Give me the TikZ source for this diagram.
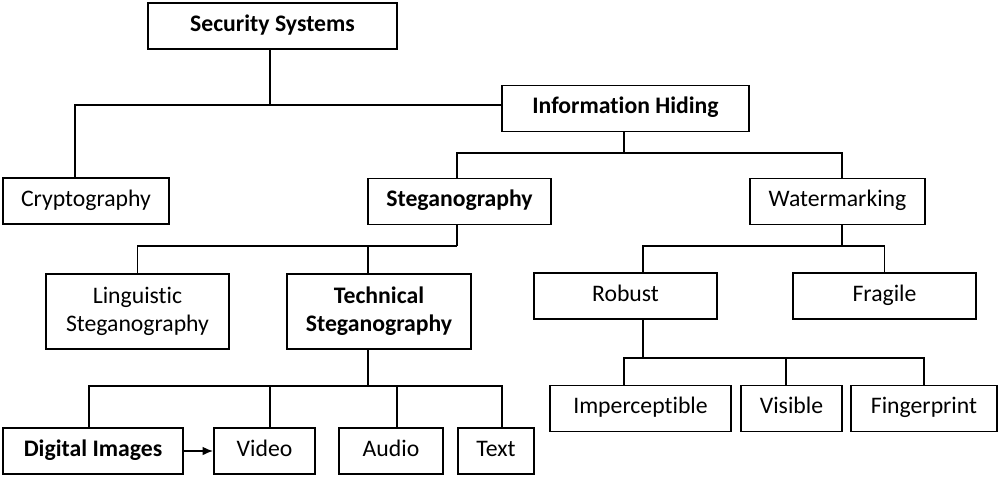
\documentclass[tikz,border=0pt]{standalone}
\usepackage{fontspec}
\setmainfont{Carlito}[Ligatures=NoCommon]
\usepackage{tikz}
\usetikzlibrary{calc,arrows.meta}

\begin{document}
\begin{tikzpicture}[x=0.02cm,y=-0.02cm,line width=1pt]
        \tikzstyle{base}=[draw,fill=white,inner sep=0pt,align=center,font=\fontsize{13.5}{16}\selectfont]
        \tikzstyle{box}=[base,minimum height=0.92cm,text height=0.65em,text depth=0.05em]
        \tikzstyle{keybox}=[box,font=\fontsize{13.5}{16}\selectfont\bfseries]
        \tikzstyle{tallbox}=[base,minimum height=1.5cm]
        \useasboundingbox (0,0) rectangle (1000,477);

        % Top levels
        \node (sec)[keybox, minimum width=4.98cm] at (272.5,26) {Security Systems};
        \node (info)[keybox, minimum width=4.94cm] at (625.5,108.5) {Information Hiding};
        \node (crypto)[box, minimum width=3.32cm] at (86,201) {Cryptography};
        \node (stego)[keybox, minimum width=3.66cm] at (459.5,201.5) {Steganography};
        \node (water)[box, minimum width=3.5cm] at (837.5,201.5) {Watermarking};

        % Steganography branch
        \node (ling)[tallbox, minimum width=3.66cm] at (137.5,311.5) {Linguistic\\Steganography};
        \node (tech)[tallbox, minimum width=3.68cm, font=\fontsize{13.5}{16}\selectfont\bfseries] at (379,311.5) {Technical\\Steganography};
        \node (digital)[keybox, minimum width=3.6cm] at (93,451) {Digital Images};
        \node (video)[box, minimum width=2.02cm] at (264.5,451) {Video};
        \node (audio)[box, minimum width=2.08cm] at (391,451) {Audio};
        \node (text)[box, minimum width=1.52cm] at (496,451) {Text};

        % Watermarking branch
        \node (robust)[box, minimum width=3.66cm] at (625.5,296) {Robust};
        \node (fragile)[box, minimum width=3.66cm] at (884.5,296) {Fragile};
        \node (imper)[box, minimum width=3.62cm] at (640.5,408.5) {Imperceptible};
        \node (visible)[box, minimum width=2.02cm] at (791.5,408.5) {Visible};
        \node (finger)[box, minimum width=2.92cm] at (924,408.5) {Fingerprint};

        % Bus junctions
        \coordinate (bus1) at (270,105);
        \coordinate (bus2) at (624,153);
        \coordinate (bus3) at (457,246);
        \coordinate (bus4) at (842,246);
        \coordinate (bus5) at (368,386);
        \coordinate (bus6) at (643,358);

        % Connectors
        \draw (sec.south -| bus1) -- (bus1);
        \draw ($(crypto.north)+(-11,0)$) |- (bus1) -- (bus1 -| info.west);

        \draw (info.south -| bus2) -- (bus2);
        \draw ($(stego.north)+(-2.5,0)$) |- (bus2) -| ($(water.north)+(4.5,0)$);

        \draw (stego.south -| bus3) -- (bus3);
        \draw (ling.north) |- (bus3);
        \draw ($(tech.north)+(-11,0)$) |- (bus3);

        \draw (water.south -| bus4) -- (bus4);
        \draw (robust.north -| bus6) |- (bus4) -| (fragile.north);

        \draw (tech.south -| bus5) -- (bus5);
        \draw ($(digital.north)+(-4,0)$) |- (bus5) -| ($(text.north)+(6,0)$);
        \draw ($(video.north)+(5.5,0)$) |- (bus5);
        \draw ($(audio.north)+(6,0)$) |- (bus5);

        \draw (robust.south -| bus6) -- (bus6);
        \draw ($(imper.north)+(-16.5,0)$) |- (bus6) -| (finger.north);
        \draw ($(visible.north)+(-5.5,0)$) |- (bus6);

        % Arrow between media
        \draw[-{Latex[length=6pt,width=5pt]}] (digital) -- (video);
    \end{tikzpicture}
\end{document}
